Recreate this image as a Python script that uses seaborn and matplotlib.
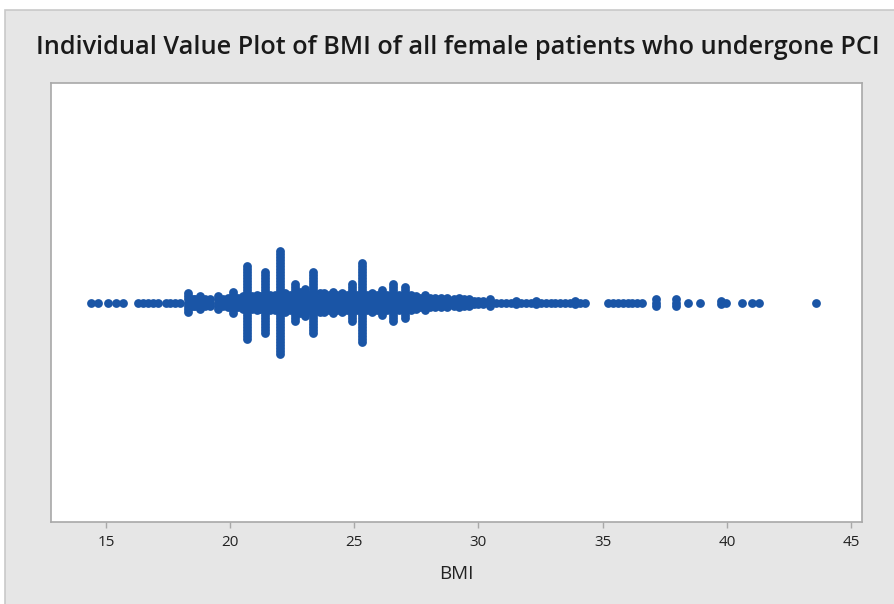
import numpy as np
import pandas as pd
import matplotlib
matplotlib.use("Agg")
import matplotlib.pyplot as plt
from matplotlib.patches import Rectangle
import seaborn as sns

# ---- data: distinct BMI values and number of patients at each value ----
bmi_values = [
    14.4, 14.7, 15.1, 15.4, 15.7,
    16.3, 16.5, 16.7, 16.9, 17.1, 17.4, 17.6, 17.8, 18.0,
    18.3, 18.5, 18.6, 18.8, 19.0, 19.2, 19.5, 19.7, 19.9,
    20.1, 20.3, 20.5, 20.7, 20.9, 21.1, 21.2, 21.4, 21.6, 21.8,
    22.0, 22.2, 22.4, 22.6, 22.8, 23.0, 23.2, 23.35, 23.6, 23.8, 24.0,
    24.15, 24.3, 24.5, 24.7, 24.9, 25.1, 25.3, 25.5, 25.7, 25.9,
    26.1, 26.3, 26.55, 26.8, 27.05, 27.3, 27.5, 27.65, 27.85, 28.05,
    28.25, 28.5, 28.75, 29.0, 29.2, 29.4, 29.6, 29.8, 30.0, 30.2,
    30.45, 30.7, 30.9, 31.1, 31.3, 31.5, 31.7, 31.9, 32.1, 32.3,
    32.5, 32.7, 32.9, 33.1, 33.3, 33.5, 33.7, 33.9, 34.1, 34.3,
    35.2, 35.4, 35.6, 35.8, 36.0, 36.2, 36.4, 36.6,
    37.15, 37.95, 38.45, 38.9, 39.75, 39.95, 40.6, 41.0, 41.3, 43.6,
]
n_patients = [
    1, 1, 1, 1, 1,
    1, 1, 1, 1, 1, 1, 1, 1, 1,
    7, 3, 3, 5, 3, 3, 5, 3, 4,
    8, 4, 5, 25, 5, 6, 5, 21, 6, 6,
    35, 7, 6, 13, 8, 10, 6, 21, 7, 7, 6,
    8, 6, 7, 6, 13, 6, 27, 6, 7, 6,
    9, 6, 13, 6, 11, 6, 5, 4, 6, 4,
    4, 4, 4, 3, 4, 3, 3, 2, 2, 2,
    3, 1, 1, 1, 1, 2, 1, 1, 1, 2,
    1, 1, 1, 1, 1, 1, 1, 2, 1, 1,
    1, 1, 1, 1, 1, 1, 1, 1,
    3, 3, 1, 1, 2, 1, 1, 1, 1, 1,
]
x_ticks = [15, 20, 25, 30, 35, 40, 45]

# ---- expand to individual patients, stacked symmetrically at equal values ----
STEP = 0.0137
rows = []
for v, n in zip(bmi_values, n_patients):
    offs = (np.arange(n) - (n - 1) / 2) * STEP
    for o in offs:
        rows.append((v, o))
df = pd.DataFrame(rows, columns=["BMI", "y"])

W, H = 894, 604
fig = plt.figure(figsize=(W / 100, H / 100), dpi=100)
fig.patch.set_facecolor("white")
fig.add_artist(Rectangle((5 / W, -0.01), 1.0, 1 - 10 / H + 0.01,
                         transform=fig.transFigure, facecolor="#e6e6e6",
                         edgecolor="#c9c9c9", linewidth=1.2, zorder=0))

ax = fig.add_axes([51 / W, 1 - 522 / H, (862 - 51) / W, (522 - 83) / H])
ax.set_facecolor("white")

sns.scatterplot(data=df, x="BMI", y="y", ax=ax, color="#1a55a6",
                s=40, linewidth=0, marker="o", legend=False)

ax.set_xlim(12.79, 45.44)
ax.set_ylim(-1, 1)
ax.set_xticks(x_ticks)
ax.set_xticklabels([str(t) for t in x_ticks])
ax.set_yticks([])
ax.set_ylabel("")
ax.set_xlabel("BMI", fontsize=13.5, family="Open Sans", color="#222222", labelpad=11)
for sp in ax.spines.values():
    sp.set_color("#a8a8a8")
    sp.set_linewidth(1.2)
ax.tick_params(axis="x", direction="out", length=4, width=1, color="#a8a8a8",
               labelsize=11, labelcolor="#222222", pad=5)
for lbl in ax.get_xticklabels():
    lbl.set_family("Open Sans")

fig.text(458 / W, 1 - 47 / H,
         "Individual Value Plot of BMI of all female patients who undergone PCI",
         ha="center", va="center", fontsize=18.2, family="Open Sans",
         fontweight="semibold", color="#1a1a1a")

fig.savefig("out.png", dpi=100, facecolor=fig.get_facecolor())
